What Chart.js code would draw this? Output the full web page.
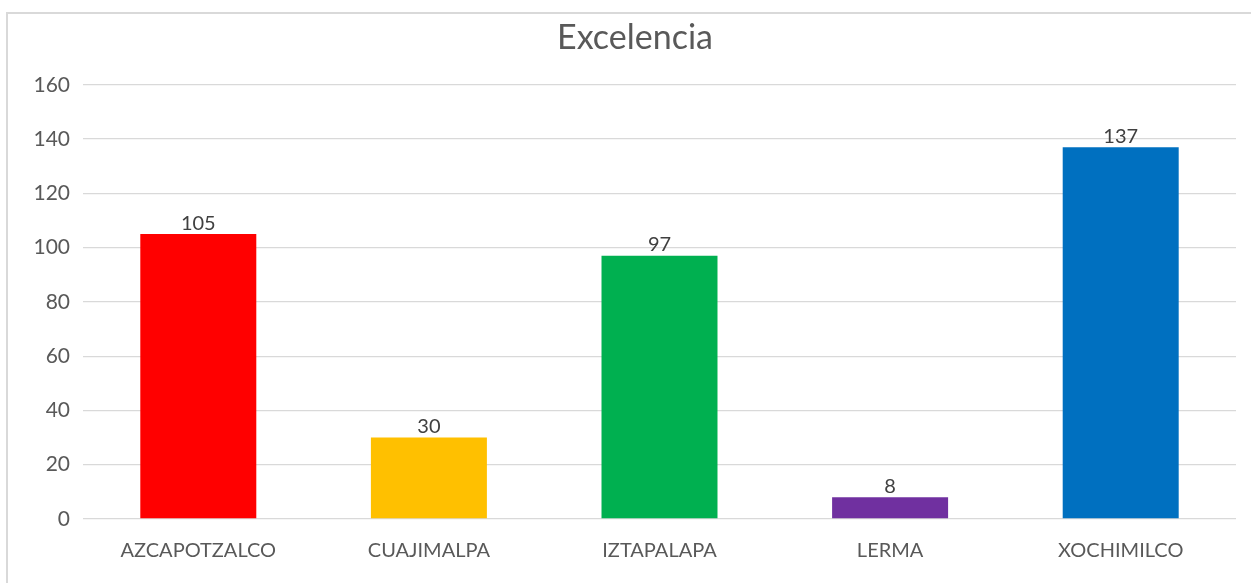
<!DOCTYPE html>
<html>
<head>
<meta charset="utf-8">
<script src="https://cdn.jsdelivr.net/npm/chart.js@4"></script>
<style>
    html, body { margin: 0; padding: 0; background: #fff; overflow: hidden; }
    #frame {
        position: absolute; left: 6px; top: 12px;
        width: 1400px; height: 800px;
        border: 2px solid #d9d9d9;
    }
    #wrap { position: absolute; left: 0; top: 0; width: 1251px; height: 583px; }
</style>
</head>
<body>
<div id="frame"></div>
<div id="wrap"><canvas id="chart" width="1251" height="583"></canvas></div>
<script>
// Data
const categories = ["AZCAPOTZALCO", "CUAJIMALPA", "IZTAPALAPA", "LERMA", "XOCHIMILCO"];
const values = [105, 30, 97, 8, 137];
const barColors = ["#FF0000", "#FFC000", "#00B050", "#7030A0", "#0070C0"];
const yTicks = [0, 20, 40, 60, 80, 100, 120, 140, 160];

const FONT = "Lato, 'Open Sans', sans-serif";

// Value labels above each bar
const valueLabels = {
    id: "valueLabels",
    afterDatasetsDraw(chart) {
        const ctx = chart.ctx;
        const meta = chart.getDatasetMeta(0);
        ctx.save();
        ctx.font = "20px " + FONT;
        ctx.fillStyle = "#404040";
        ctx.textAlign = "center";
        ctx.textBaseline = "bottom";
        meta.data.forEach((bar, i) => {
            ctx.fillText(String(values[i]), bar.x, bar.y - 1);
        });
        ctx.restore();
    }
};

new Chart(document.getElementById("chart").getContext("2d"), {
    type: "bar",
    data: {
        labels: categories,
        datasets: [{
            data: values,
            backgroundColor: barColors,
            borderWidth: 0,
            barPercentage: 0.503,
            categoryPercentage: 1
        }]
    },
    options: {
        responsive: false,
        animation: false,
        layout: { padding: { left: 34, right: 15, top: 0, bottom: 0 } },
        plugins: {
            legend: { display: false },
            tooltip: { enabled: false },
            title: {
                display: true,
                text: "Excelencia",
                color: "#595959",
                font: { family: FONT, size: 34, weight: "normal" },
                padding: { top: 18, bottom: 26 }
            }
        },
        scales: {
            x: {
                grid: { display: false },
                border: { display: false },
                ticks: {
                    color: "#595959",
                    font: { family: FONT, size: 20 },
                    padding: 12,
                    maxRotation: 0
                },
                afterFit(scale) { scale.height = 64; }
            },
            y: {
                min: 0,
                max: 160,
                afterBuildTicks(scale) {
                    scale.ticks = yTicks.map(v => ({ value: v }));
                },
                grid: { color: "#d9d9d9", lineWidth: 1.3, drawTicks: false },
                border: { display: false },
                ticks: {
                    color: "#595959",
                    font: { family: FONT, size: 21 },
                    padding: 13
                },
                afterFit(scale) { scale.width = 49; }
            }
        }
    },
    plugins: [valueLabels]
});
</script>
</body>
</html>
